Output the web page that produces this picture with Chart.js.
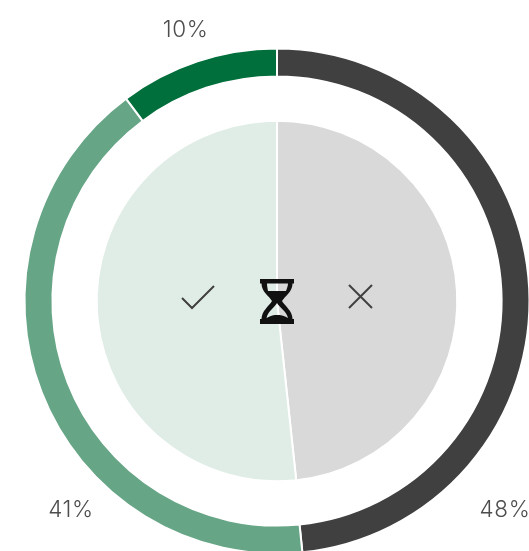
<!DOCTYPE html>
<html><head><meta charset="utf-8">
<script src="https://cdn.jsdelivr.net/npm/chart.js@4"></script>
<style>
html,body{margin:0;padding:0;background:#fff;width:529px;height:551px;overflow:hidden}
#wrap{position:relative;width:529px;height:551px;overflow:hidden}
#c{position:absolute;left:0;top:0}
.lbl{position:absolute;font:300 22.5px "Inter","Lato",sans-serif;color:#4d4d4d;transform:translate(-50%,-50%);white-space:nowrap;letter-spacing:.6px}
svg{position:absolute;left:0;top:0}
</style></head><body>
<div id="wrap">
<canvas id="c" width="554" height="602" style="width:554px;height:602px"></canvas>
<div class="lbl" id="l0" style="left:505px;top:508px"></div>
<div class="lbl" id="l1" style="left:71px;top:508px"></div>
<div class="lbl" id="l2" style="left:185.500px;top:27.5px"></div>
<svg width="529" height="551" viewBox="0 0 529 551">
<path d="M182 298 L192 308 L214 286" fill="none" stroke="#404040" stroke-width="2"/>
<path d="M349 285 L372 308 M372 285 L349 308" fill="none" stroke="#404040" stroke-width="2"/>
<path fill="#111" fill-rule="evenodd" d="M260 279H294V283.5H292.500C292.500 292 285 296 282 301C285 306 292.500 311 292.500 319H294V324H260V319H261.500C261.500 311 269 306 272 301C269 296 261.500 292 261.500 283.5H260ZM267 283.5H288C288 286 287 288 286 291H268C267.500 288 267 286 267 283.5ZM277 303C275 307 268 311 266.500 318C271 315.500 274 315 277 315C280 315 284 315.500 288 318C286.500 311 279 307 277 303Z"/>
</svg>
</div>
<script>
const outerLabels = ['48%', '41%', '10%'];
const outerValues = [48.4, 41.4, 10.2];
const innerCategories = ['No', 'Yes'];
const innerValues = [48.3, 51.7];
const outerColors = ['#404040', '#66a585', '#006f3c'];
const innerColors = ['#d9d9d9', '#e0ede6'];

outerLabels.forEach((t, i) => { document.getElementById('l' + i).textContent = t; });

new Chart(document.getElementById('c'), {
  type: 'doughnut',
  data: {
    labels: outerLabels,
    datasets: [
      { data: outerValues, backgroundColor: outerColors, borderColor: '#fff', borderWidth: 2, weight: 28 },
      { data: [], weight: 44.5 },
      { data: innerValues, backgroundColor: innerColors, borderColor: '#fff', borderWidth: 2, weight: 181 }
    ]
  },
  options: {
    responsive: false,
    animation: false,
    cutout: 0,
    layout: { padding: 23.5 },
    plugins: { legend: { display: false }, tooltip: { enabled: false } }
  }
});
</script>
</body></html>
